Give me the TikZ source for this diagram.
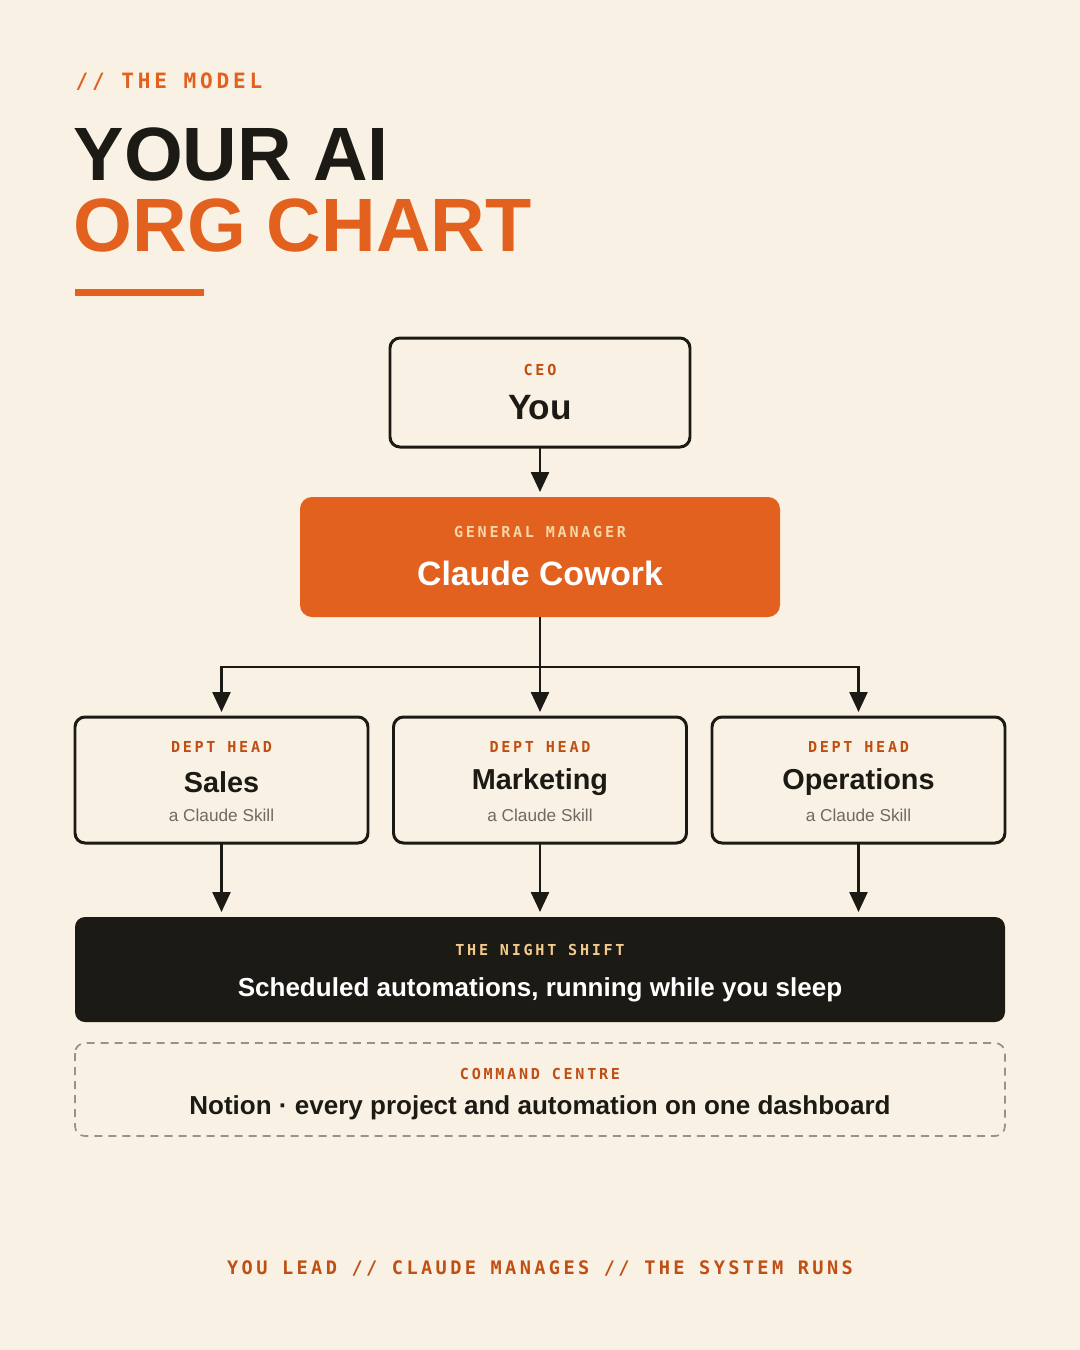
\documentclass[tikz,border=0pt]{standalone}
\usepackage{fontspec}
\setmainfont{Liberation Sans}
\newfontfamily\labelfont[LetterSpace=18]{DejaVu Sans Mono Bold}
\usetikzlibrary{positioning, arrows.meta}

\definecolor{cream}{HTML}{F9F1E3}
\definecolor{rust}{HTML}{E2611F}
\definecolor{rustdark}{HTML}{BF4F14}
\definecolor{ink}{HTML}{1C1A15}
\definecolor{sand}{HTML}{F4C98C}
\definecolor{skill}{HTML}{6E6A62}

\tikzset{
  tag/.style={font=\labelfont\fontsize{4.3}{5}\selectfont, text=rustdark},
  title/.style={font=\bfseries\fontsize{8.2}{9}\selectfont, text=ink},
  box/.style={draw=ink, line width=0.85pt, rounded corners=0.1cm, fill=cream},
  link/.style={draw=ink, line width=0.7pt, -{Triangle[length=0.2cm,width=0.18cm]}},
}

\begin{document}
\begin{tikzpicture}[x=0.01cm, y=-0.01cm]
  \useasboundingbox[fill=cream] (0,0) rectangle (1080,1350);
  %
  \node[anchor=west, inner sep=0, font=\labelfont\fontsize{6}{7}\selectfont, text=rust] (kicker) at (75,82) {// THE MODEL};
  \node[anchor=base west, inner sep=0, font=\bfseries\fontsize{21.5}{22}\selectfont, text=ink] (head1) at (73,180) {YOUR AI};
  \node[anchor=base west, inner sep=0, font=\bfseries\fontsize{21.5}{22}\selectfont, text=rust] (head2) at (73,251) {ORG CHART};
  \fill[rust] (75,289) rectangle (204,296);
  %
  \draw[box] (390,338) rectangle (690,447);
  \node (ceo) at (540,392.5) [minimum width=3cm, minimum height=1.09cm] {};
  \node[tag] at (540,370) {CEO};
  \node[title, font=\bfseries\fontsize{10}{11}\selectfont] at (540,408) {You};
  %
  \fill[rust, rounded corners=0.12cm] (300,497) rectangle (780,617);
  \node (gm) at (540,557) [minimum width=4.8cm, minimum height=1.2cm] {};
  \node[tag, text=sand!70!cream] at (540,532) {GENERAL MANAGER};
  \node[title, text=white, font=\bfseries\fontsize{9.6}{11}\selectfont] at (540,573) {Claude Cowork};
  %
  \foreach \x/\name/\dept in {221.5/sales/Sales, 540/mkt/Marketing, 858.5/ops/Operations} {
    \draw[box] (\x-146.5,717) rectangle (\x+146.5,843);
    \node (\name) at (\x,780) [minimum width=2.93cm, minimum height=1.26cm] {};
    \node[tag] at (\x,747) {DEPT HEAD};
    \node[title] at (\x,782) {\dept};
    \node[font=\fontsize{4.9}{6}\selectfont, text=skill] at (\x,815) {a Claude Skill};
  }
  %
  \fill[ink, rounded corners=0.1cm] (75,917) rectangle (1005,1022);
  \node (night) at (540,969.5) [minimum width=9.3cm, minimum height=1.05cm] {};
  \node[tag, text=sand] at (540,950) {THE NIGHT SHIFT};
  \node[title, text=white, font=\bfseries\fontsize{7.4}{9}\selectfont] at (540,990) {Scheduled automations, running while you sleep};
  %
  \draw[draw=skill!70!cream, line width=0.5pt, dash pattern=on 0.08cm off 0.06cm, rounded corners=0.1cm] (75,1043) rectangle (1005,1136);
  \node[tag] at (540,1074) {COMMAND CENTRE};
  \node[title, font=\bfseries\fontsize{7.4}{9}\selectfont] at (540,1108) {Notion · every project and automation on one dashboard};
  %
  \node[font=\labelfont\fontsize{5.3}{6}\selectfont, text=rustdark] (footer) at (540,1268) {YOU LEAD // CLAUDE MANAGES // THE SYSTEM RUNS};
  %
  \coordinate (split) at (540,667);
  \draw[link] (540,447) -- (540,492);
  \draw[draw=ink, line width=0.7pt] (540,617) -- (split);
  \draw[link] (split) -| (221.5,712);
  \draw[link] (split) -- (540,712);
  \draw[link] (split) -| (858.5,712);
  \foreach \x in {221.5, 540, 858.5}
    \draw[link] (\x,843) -- (\x,912);
\end{tikzpicture}
\end{document}
